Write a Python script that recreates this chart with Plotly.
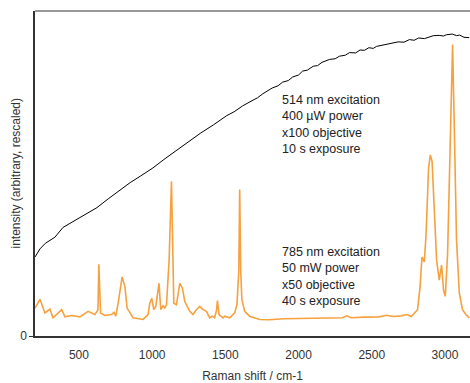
import plotly.graph_objects as go

# 514 nm spectrum (black)
shift_514 = [200, 234, 270, 336, 391, 450, 520, 570, 623, 700, 780, 850, 920, 1005, 1080, 1150,
             1200, 1257, 1330, 1420, 1470, 1509, 1560, 1618, 1690, 1720, 1755, 1820, 1860, 1891,
             1930, 1960, 2000, 2027, 2060, 2100, 2130, 2160, 2211, 2250, 2280, 2320, 2348, 2390,
             2420, 2450, 2480, 2510, 2532, 2570, 2600, 2640, 2680, 2720, 2757, 2790, 2820, 2860,
             2893, 2920, 2960, 2990, 3010, 3050, 3080, 3100, 3130, 3166]
int_514 = [0.243, 0.268, 0.285, 0.304, 0.334, 0.350, 0.368, 0.382, 0.395, 0.422, 0.450, 0.472,
           0.492, 0.517, 0.543, 0.566, 0.580, 0.599, 0.624, 0.650, 0.665, 0.678, 0.690, 0.708,
           0.726, 0.733, 0.745, 0.763, 0.770, 0.781, 0.786, 0.797, 0.803, 0.815, 0.818, 0.830,
           0.832, 0.842, 0.851, 0.853, 0.861, 0.864, 0.872, 0.871, 0.880, 0.879, 0.887, 0.885,
           0.891, 0.895, 0.898, 0.900, 0.905, 0.904, 0.912, 0.910, 0.917, 0.915, 0.921, 0.924,
           0.925, 0.923, 0.927, 0.929, 0.924, 0.926, 0.919, 0.918]

# 785 nm spectrum (orange)
shift_785 = [200, 234, 268, 302, 323, 382, 405, 450, 507, 563, 609, 630, 636, 642, 648, 677,
             723, 739, 752, 768, 780, 795, 814, 829, 870, 938, 972, 984, 998, 1011, 1025, 1036,
             1047, 1059, 1075, 1086, 1098, 1116, 1132, 1148, 1166, 1189, 1207, 1223, 1257, 1279,
             1302, 1325, 1348, 1371, 1393, 1412, 1427, 1440, 1446, 1457, 1484, 1495, 1530, 1564,
             1579, 1592, 1598, 1605, 1613, 1632, 1666, 1734, 1800, 1900, 2000, 2100, 2200, 2300,
             2330, 2360, 2450, 2550, 2600, 2650, 2700, 2740, 2770, 2813, 2830, 2843, 2859, 2871,
             2888, 2900, 2912, 2927, 2943, 2961, 2977, 2990, 3002, 3018, 3034, 3052, 3064, 3079,
             3098, 3120, 3143, 3166]
int_785 = [0.086, 0.113, 0.071, 0.083, 0.056, 0.081, 0.059, 0.063, 0.059, 0.076, 0.066, 0.080,
           0.221, 0.090, 0.071, 0.063, 0.066, 0.073, 0.061, 0.101, 0.132, 0.182, 0.152, 0.086,
           0.056, 0.051, 0.066, 0.101, 0.116, 0.081, 0.091, 0.137, 0.162, 0.081, 0.093, 0.086,
           0.096, 0.234, 0.476, 0.101, 0.096, 0.162, 0.147, 0.106, 0.076, 0.066, 0.081, 0.091,
           0.081, 0.076, 0.056, 0.061, 0.056, 0.080, 0.109, 0.066, 0.056, 0.061, 0.056, 0.071,
           0.096, 0.200, 0.451, 0.200, 0.112, 0.076, 0.061, 0.051, 0.050, 0.053, 0.054, 0.055,
           0.055, 0.056, 0.062, 0.056, 0.058, 0.059, 0.064, 0.060, 0.062, 0.066, 0.060, 0.081,
           0.152, 0.243, 0.228, 0.314, 0.517, 0.557, 0.537, 0.375, 0.233, 0.172, 0.218, 0.142,
           0.122, 0.253, 0.517, 0.897, 0.638, 0.295, 0.132, 0.081, 0.066, 0.056]

x_ticks = [500, 1000, 1500, 2000, 2500, 3000]
y_ticks = [0]

label_514 = "514 nm excitation<br>400 µW power<br>x100 objective<br>10 s exposure"
label_785 = "785 nm excitation<br>50 mW power<br>x50 objective<br>40 s exposure"

font_family = "Liberation Sans, Arial, sans-serif"
axis_col = "#333333"

fig = go.Figure()
fig.add_trace(go.Scatter(x=shift_514, y=int_514, mode="lines",
                         line=dict(color="black", width=1), showlegend=False))
fig.add_trace(go.Scatter(x=shift_785, y=int_785, mode="lines",
                         line=dict(color="#f7a03e", width=1.6), showlegend=False))

fig.add_annotation(x=1875, y=0.755, xref="x", yref="y", text=label_514, showarrow=False,
                   xanchor="left", yanchor="top", align="left",
                   font=dict(family=font_family, size=12.5, color="#222222"))
fig.add_annotation(x=1875, y=0.287, xref="x", yref="y", text=label_785, showarrow=False,
                   xanchor="left", yanchor="top", align="left",
                   font=dict(family=font_family, size=12.5, color="#222222"))

# y-axis title
fig.add_annotation(x=0, y=0.5, xref="paper", yref="paper", xshift=-20,
                   text="intensity (arbitrary, rescaled)", textangle=-90, showarrow=False,
                   xanchor="center", yanchor="middle",
                   font=dict(family=font_family, size=12, color=axis_col))

# top frame line
fig.add_shape(type="line", xref="paper", yref="paper", x0=0, x1=1, y0=1, y1=1,
              line=dict(color="#777777", width=1.5))

fig.update_layout(
    width=470, height=383,
    margin=dict(l=35, r=0, t=11, b=43),
    plot_bgcolor="white", paper_bgcolor="white",
    font=dict(family=font_family, size=12, color=axis_col),
    xaxis=dict(range=[200, 3171], tickvals=x_ticks, showgrid=False, zeroline=False,
               showline=True, linecolor=axis_col, linewidth=1.5, ticks="",
               ticklabelstandoff=7,
               title=dict(text="Raman shift / cm-1", standoff=12,
                          font=dict(size=12, color=axis_col))),
    yaxis=dict(range=[0, 1], tickvals=y_ticks, showgrid=False, zeroline=False,
               showline=True, linecolor=axis_col, linewidth=1.5, ticks="outside",
               ticklen=4, tickcolor=axis_col),
)

fig.write_html("out.html", config={"displayModeBar": False},
               post_script="document.body.style.margin='0';document.body.style.padding='0';")
